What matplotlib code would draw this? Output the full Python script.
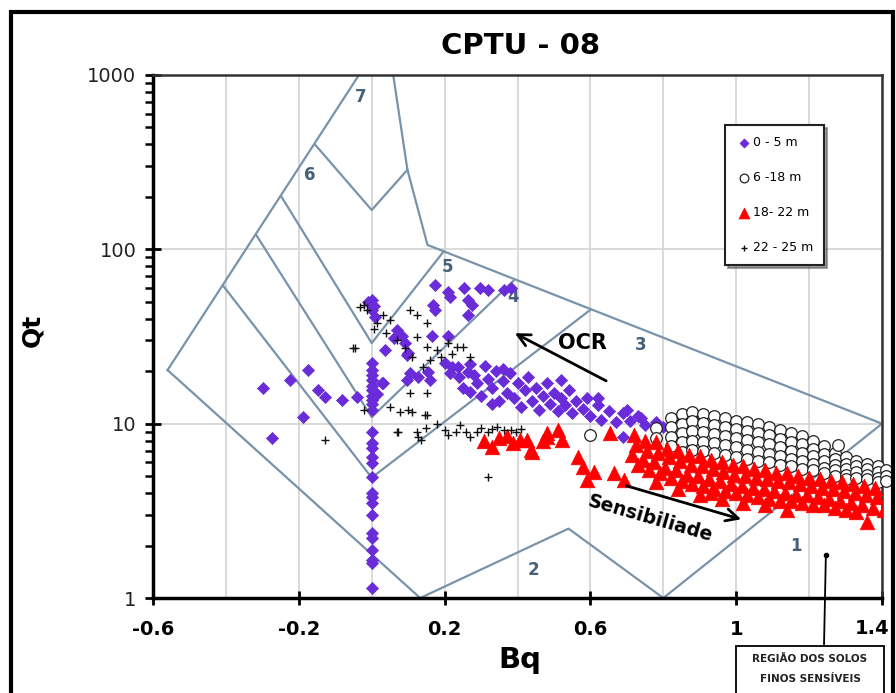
import matplotlib
matplotlib.use('Agg')
import matplotlib.pyplot as plt
import matplotlib as mpl
import matplotlib.transforms as mtransforms
from matplotlib.patches import Rectangle
from matplotlib.ticker import FixedLocator, NullFormatter

# ---- data (Bq, Qt) ----
diamonds = [  # 0 - 5 m
    (0.0, 1.14), (0.0, 1.59), (0.0, 1.65), (0.0, 1.88), (0.0, 2.21), (0.0, 2.36), (0.0, 2.99),
    (0.0, 3.51), (0.0, 3.8), (0.0, 4.0), (0.0, 4.94), (0.0, 5.95), (0.0, 6.44), (0.0, 7.26),
    (0.0, 7.75), (0.0, 9.0), (0.0, 12.0), (0.0, 13.0), (0.0, 13.7), (0.0, 14.5), (0.0, 15.6),
    (0.0, 16.5), (0.0, 17.8), (0.0, 19.0), (0.0, 20.3), (0.0, 22.3), (0.0, 44.8), (0.0, 51.3),
    (-0.298, 16.0), (-0.224, 17.8), (-0.174, 20.3), (-0.147, 15.6), (-0.127, 14.2), (-0.081, 13.7),
    (-0.04, 14.2), (-0.188, 10.9), (-0.273, 8.3), (0.029, 17.1), (0.015, 14.8),
    (0.175, 62.6), (0.21, 56.9), (0.252, 60), (0.298, 60), (0.318, 58.5), (0.362, 58.5), (0.381, 60),
    (0.263, 51.3), (0.276, 48), (0.263, 42), (0.169, 48), (0.175, 45), (0.216, 53),
    (0.005, 47), (-0.01, 50), (0.01, 41), (0.07, 34.4), (0.084, 32), (0.1, 25.4), (0.037, 26.5),
    (0.09, 29), (0.06, 31), (0.166, 32), (0.21, 32), (0.202, 22.3), (0.106, 19.5), (0.155, 19.8),
    (0.098, 17.8), (0.128, 18.5), (0.161, 17.8), (0.032, 17.1), (0.098, 24.8), (0.216, 19.5),
    (0.238, 21), (0.263, 19.8),
    (0.22, 21), (0.24, 18.5), (0.25, 16), (0.27, 22), (0.28, 19), (0.29, 17), (0.30, 14.5),
    (0.31, 21.5), (0.32, 18), (0.33, 16), (0.34, 20), (0.35, 13.5), (0.36, 17.5), (0.37, 15),
    (0.38, 19.5), (0.39, 14), (0.40, 17), (0.41, 12.5), (0.42, 15.5), (0.43, 18.5), (0.44, 13.5),
    (0.45, 16), (0.46, 12), (0.47, 14.5), (0.48, 17), (0.49, 13), (0.50, 15), (0.51, 11.8),
    (0.52, 14), (0.53, 12.8), (0.54, 15.5), (0.55, 11.5), (0.56, 13.5), (0.58, 12.2), (0.59, 14),
    (0.60, 11), (0.62, 12.8), (0.63, 10.5), (0.65, 11.8), (0.67, 10.2), (0.69, 11.5), (0.71, 10.3),
    (0.73, 11), (0.75, 9.8), (0.78, 10.2), (0.80, 9.6),
    (0.518, 17.8), (0.622, 14.1), (0.69, 8.4), (0.70, 12.0), (0.738, 10.8), (0.785, 9.7),
    (0.82, 9.6), (0.848, 10.5), (0.895, 10.5), (0.27, 15.2), (0.33, 13.0), (0.36, 20.5),
]

circles = [  # 6 - 18 m
    (0.78, 9.5), (0.78, 8.3),
    (0.82, 10.8), (0.82, 9.6), (0.82, 8.4), (0.82, 7.4),
    (0.85, 11.3), (0.85, 10.0), (0.85, 8.8), (0.85, 7.8), (0.85, 6.9),
    (0.88, 11.6), (0.88, 10.3), (0.88, 9.1), (0.88, 8.0), (0.88, 7.1),
    (0.91, 11.4), (0.91, 10.1), (0.91, 8.9), (0.91, 7.9), (0.91, 7.0),
    (0.94, 11.0), (0.94, 9.8), (0.94, 8.7), (0.94, 7.7), (0.94, 6.8),
    (0.97, 10.8), (0.97, 9.6), (0.97, 8.5), (0.97, 7.5), (0.97, 6.6),
    (1.00, 10.4), (1.00, 9.3), (1.00, 8.3), (1.00, 7.3), (1.00, 6.4),
    (1.03, 10.2), (1.03, 9.1), (1.03, 8.1), (1.03, 7.1), (1.03, 6.3),
    (1.06, 9.9), (1.06, 8.8), (1.06, 7.9), (1.06, 6.9), (1.06, 6.1),
    (1.09, 9.6), (1.09, 8.6), (1.09, 7.6), (1.09, 6.7), (1.09, 6.0),
    (1.12, 9.2), (1.12, 8.2), (1.12, 7.3), (1.12, 6.5), (1.12, 5.8),
    (1.15, 8.8), (1.15, 7.9), (1.15, 7.0), (1.15, 6.3), (1.15, 5.7),
    (1.18, 8.5), (1.18, 7.6), (1.18, 6.8), (1.18, 6.1), (1.18, 5.5),
    (1.21, 8.0), (1.21, 7.2), (1.21, 6.5), (1.21, 5.9), (1.21, 5.4),
    (1.24, 7.4), (1.24, 6.7), (1.24, 6.1), (1.24, 5.6), (1.24, 5.2),
    (1.27, 6.8), (1.27, 6.3), (1.27, 5.8), (1.27, 5.4), (1.27, 5.0),
    (1.30, 6.4), (1.30, 5.9), (1.30, 5.5), (1.30, 5.1), (1.30, 4.8),
    (1.33, 6.1), (1.33, 5.7), (1.33, 5.3), (1.33, 4.9),
    (1.36, 5.9), (1.36, 5.5), (1.36, 5.1), (1.36, 4.8),
    (1.39, 5.7), (1.39, 5.3), (1.39, 4.9), (1.39, 4.6),
    (1.41, 5.4), (1.41, 5.0), (1.41, 4.7),
    (1.28, 7.55), (0.60, 8.6),
]

triangles = [  # 18 - 22 m
    (0.307, 8.0), (0.33, 7.3), (0.35, 8.3), (0.389, 7.74), (0.408, 8.06), (0.427, 8.06),
    (0.436, 7.07), (0.441, 6.87), (0.482, 8.83), (0.482, 8.4), (0.51, 9.2), (0.523, 8.06),
    (0.565, 6.44), (0.581, 5.64), (0.609, 5.28), (0.592, 4.75), (0.655, 8.83), (0.664, 5.2),
    (0.691, 4.75), (0.47, 8.0), (0.37, 8.5),
    (0.72, 8.6), (0.725, 7.5), (0.715, 6.6), (0.73, 5.8),
    (0.75, 8.0), (0.755, 7.0), (0.745, 6.2), (0.76, 5.4),
    (0.78, 7.8), (0.785, 6.8), (0.775, 6.0), (0.79, 5.2), (0.78, 4.6),
    (0.81, 7.2), (0.815, 6.4), (0.805, 5.6), (0.82, 4.9),
    (0.84, 7.0), (0.845, 6.1), (0.835, 5.4), (0.85, 4.7), (0.84, 4.2),
    (0.87, 6.6), (0.875, 5.8), (0.865, 5.1), (0.88, 4.5),
    (0.90, 6.5), (0.905, 5.7), (0.895, 5.0), (0.91, 4.4), (0.90, 3.9),
    (0.93, 6.2), (0.935, 5.5), (0.925, 4.8), (0.94, 4.2),
    (0.96, 6.0), (0.965, 5.3), (0.955, 4.7), (0.97, 4.1), (0.96, 3.7),
    (0.99, 5.8), (0.995, 5.1), (0.985, 4.5), (1.00, 4.0),
    (1.02, 5.7), (1.025, 5.0), (1.015, 4.4), (1.03, 3.9), (1.02, 3.5),
    (1.05, 5.5), (1.055, 4.9), (1.045, 4.3), (1.06, 3.8),
    (1.08, 5.4), (1.085, 4.8), (1.075, 4.2), (1.09, 3.7), (1.08, 3.4),
    (1.11, 5.2), (1.115, 4.7), (1.105, 4.1), (1.12, 3.6),
    (1.14, 5.2), (1.145, 4.6), (1.135, 4.0), (1.15, 3.6), (1.14, 3.2),
    (1.17, 5.0), (1.175, 4.5), (1.165, 3.9), (1.18, 3.5),
    (1.20, 4.9), (1.205, 4.4), (1.195, 3.9), (1.21, 3.4),
    (1.23, 4.8), (1.235, 4.3), (1.225, 3.8), (1.24, 3.4),
    (1.26, 4.7), (1.265, 4.2), (1.255, 3.7), (1.27, 3.3),
    (1.29, 4.6), (1.295, 4.1), (1.285, 3.6), (1.30, 3.2),
    (1.32, 4.5), (1.325, 4.0), (1.315, 3.5), (1.33, 3.1),
    (1.35, 4.4), (1.355, 3.9), (1.345, 3.4),
    (1.38, 4.3), (1.385, 3.8), (1.375, 3.3),
    (1.36, 2.73), (1.405, 3.2), (0.93, 4.0),
]

crosses = [  # 22 - 25 m
    (-0.031, 46.6), (-0.012, 44.8), (0.015, 37.6), (0.005, 35), (-0.045, 27.1), (0.051, 39.3),
    (0.106, 44.8), (0.125, 42), (0.153, 37.6), (0.125, 31.4), (0.153, 27.6), (0.18, 26.5),
    (0.21, 29.1), (0.235, 27.6), (0.25, 27.6), (0.27, 24.1), (0.161, 23.2), (-0.02, 48),
    (0.03, 42), (0.04, 33), (0.07, 30), (0.09, 27), (0.11, 24), (0.14, 21), (0.19, 24), (0.22, 25),
    (0.079, 11.7), (0.111, 11.7), (0.153, 11.2), (0.073, 8.9), (0.125, 9.0), (0.134, 8.1),
    (0.18, 10), (0.202, 9.2), (0.23, 8.9), (0.243, 9.8), (0.27, 8.4), (0.29, 8.9), (0.318, 9.0),
    (0.345, 9.6), (0.362, 9.2), (0.381, 9.2), (0.33, 9.3), (0.30, 9.5), (0.26, 9.0), (0.21, 8.6),
    (0.15, 9.5), (0.10, 12), (0.32, 4.94), (-0.127, 8.1), (-0.05, 27), (0.07, 8.9), (0.147, 11.2),
    (0.153, 15), (0.106, 15), (-0.02, 12), (0.05, 12.5), (0.395, 9.0), (0.41, 9.3), (0.128, 8.4),
]

# zone boundaries (Robertson 1986, Bq - Qt)
zone_lines = [
    [(-0.56, 20.3), (-0.035, 1000)],
    [(-0.56, 20.3), (0.133, 1)],
    [(-0.408, 62), (0.0, 4.9), (0.6, 45)],
    [(-0.317, 121), (0.0, 10.9), (0.389, 66)],
    [(-0.248, 201), (0.0, 29), (0.197, 97)],
    [(-0.155, 398), (0.0, 168), (0.098, 286)],
    [(0.059, 1000), (0.098, 286), (0.153, 106), (1.4, 10)],
    [(0.133, 1), (0.54, 2.5), (0.8, 1)],
    [(0.8, 1), (1.4, 10)],
]
zone_labels = [('7', -0.031, 750), ('6', -0.169, 267), ('5', 0.208, 79), ('4', 0.389, 53),
               ('3', 0.738, 28.3), ('2', 0.444, 1.45), ('1', 1.164, 1.99)]

labels = ['0 - 5 m', '6 -18 m', '18- 22 m', '22 - 25 m']
xticks = [-0.6, -0.2, 0.2, 0.6, 1.0, 1.4]
xtick_labels = ['-0.6', '-0.2', '0.2', '0.6', '1', '1.4']


def xy(pts):
    return [p[0] for p in pts], [p[1] for p in pts]


def init():
    mpl.rc('font', family='DejaVu Sans')
    fig = plt.figure(figsize=(8.96, 6.93), dpi=100)
    ax = fig.add_axes([153/896, 1-598/693, 729/896, 523/693])
    return fig, ax


def plot():
    fig, ax = init()
    zc = '#7893AA'
    for line in zone_lines:
        x, y = xy(line)
        ax.plot(x, y, color=zc, lw=1.6, zorder=1)
    for t, x, y in zone_labels:
        ax.text(x, y, t, color='#44607A', fontsize=12, fontweight='bold',
                ha='center', va='center', zorder=2)

    x, y = xy(diamonds)
    h1 = ax.scatter(x, y, marker='D', s=38, c='#6A2BD9', edgecolors='#6A2BD9', lw=0.5,
                    zorder=3, label=labels[0])
    x, y = xy(circles)
    h2 = ax.scatter(x, y, marker='o', s=70, facecolors='white', edgecolors='#222222', lw=0.9,
                    zorder=4, label=labels[1], clip_on=False)
    x, y = xy(triangles)
    h3 = ax.scatter(x, y, marker='^', s=110, c='#FF0000', edgecolors='#FF0000', lw=0.5,
                    zorder=5, label=labels[2])
    x, y = xy(crosses)
    h4 = ax.scatter(x, y, marker='+', s=30, c='#111111', lw=1.0, zorder=6, label=labels[3])

    ax.set_yscale('log')
    ax.set_xlim(-0.6, 1.4)
    ax.set_ylim(1, 1000)

    ax.xaxis.set_major_locator(FixedLocator(xticks))
    ax.xaxis.set_minor_locator(FixedLocator([-0.4, 0.0, 0.4, 0.8, 1.2]))
    # the last label sits against the outer frame: draw it separately, nudged left
    ax.set_xticklabels(xtick_labels[:-1] + [''], fontweight='bold', fontsize=14)
    tr = mtransforms.offset_copy(ax.get_xaxis_transform(), fig=fig, x=-10, y=-21.5, units='dots')
    ax.text(xticks[-1], 0, xtick_labels[-1], transform=tr, fontsize=14, fontweight='bold',
            ha='center', va='top')
    ax.yaxis.set_major_locator(FixedLocator([1, 10, 100, 1000]))
    ax.set_yticklabels(['1', '10', '100', '1000'], fontsize=14, color='#222222')
    ax.yaxis.set_minor_formatter(NullFormatter())
    ax.tick_params(axis='x', which='major', direction='inout', length=10, width=2, pad=11)
    ax.tick_params(axis='x', which='minor', length=0)
    ax.tick_params(axis='y', which='major', direction='inout', length=12, width=2, pad=6)
    ax.tick_params(axis='y', which='minor', direction='out', length=6, width=1.8)

    ax.grid(True, which='major', axis='y', color='#D3D3D3', lw=1.2, zorder=0)
    ax.grid(True, which='both', axis='x', color='#D3D3D3', lw=1.2, zorder=0)
    ax.set_axisbelow(True)
    for s in ['left', 'bottom']:
        ax.spines[s].set_linewidth(2.5)
    for s in ['top', 'right']:
        ax.spines[s].set_linewidth(1.8)
        ax.spines[s].set_color('#333333')

    ax.set_xlabel('Bq', fontsize=21, fontweight='bold')
    ax.set_ylabel('Qt', fontsize=18, fontweight='bold')
    ax.xaxis.set_label_coords((520 - 153)/729, (598 - 646)/523)
    ax.yaxis.set_label_coords((44 - 153)/729, (598 - 330)/523)
    fig.text(520/896, 1-46/693, 'CPTU - 08', fontsize=21, fontweight='bold',
             ha='center', va='center')

    # trend arrows
    ax.annotate('', xy=(0.386, 33.6), xytext=(0.65, 17.3),
                arrowprops=dict(arrowstyle='->', lw=2, color='black',
                                mutation_scale=22), zorder=7)
    ax.text(0.579, 29, 'OCR', fontsize=15, fontweight='bold', ha='center', va='center', zorder=7)
    ax.annotate('', xy=(1.021, 2.80), xytext=(0.691, 4.45),
                arrowprops=dict(arrowstyle='->', lw=2, color='black',
                                mutation_scale=22), zorder=7)
    ax.text(0.765, 2.85, 'Sensibiliade', fontsize=13.5, fontweight='bold', rotation=-16,
            ha='center', va='center', rotation_mode='anchor', zorder=7)

    # sensitive soils callout
    ax.plot([1.246], [1.76], marker='o', ms=3, color='black', zorder=7)
    ax.annotate('', xy=(1.246, 1.76), xytext=(824/896, 1-646/693), textcoords='figure fraction',
                arrowprops=dict(arrowstyle='-', lw=1.3, color='black', shrinkA=0, shrinkB=0),
                annotation_clip=False)
    fig.patches.append(Rectangle((736/896, -0.05), 148/896, 0.05 + 1-646/693,
                                 transform=fig.transFigure, fill=False, lw=1.3, ec='black'))
    fig.text(810/896, 1-659/693, 'REGIÃO DOS SOLOS', fontsize=7.5, fontweight='bold',
             ha='center', va='center', color='#222222')
    fig.text(810/896, 1-679/693, 'FINOS SENSÍVEIS', fontsize=7.5, fontweight='bold',
             ha='center', va='center', color='#222222')

    leg = ax.legend(handles=[h1, h2, h3, h4], loc='upper right',
                    bbox_to_anchor=((824-153)/729, (598-125)/523), fontsize=9,
                    labelspacing=1.75, handletextpad=0.1, handlelength=1.2,
                    borderpad=0.9, borderaxespad=0, fancybox=False, shadow=True,
                    framealpha=1, scatterpoints=1, markerscale=0.75)
    leg.get_frame().set_edgecolor('#222222')
    leg.get_frame().set_linewidth(1.5)
    leg.set_zorder(10)

    # outer frame
    fig.patches.append(Rectangle((11/896, -0.05), (893-11)/896, 0.05 + 1-12/693,
                                 transform=fig.transFigure, fill=False, lw=3, ec='black'))
    plt.savefig('out.png', dpi=100)


if __name__ == '__main__':
    plot()
